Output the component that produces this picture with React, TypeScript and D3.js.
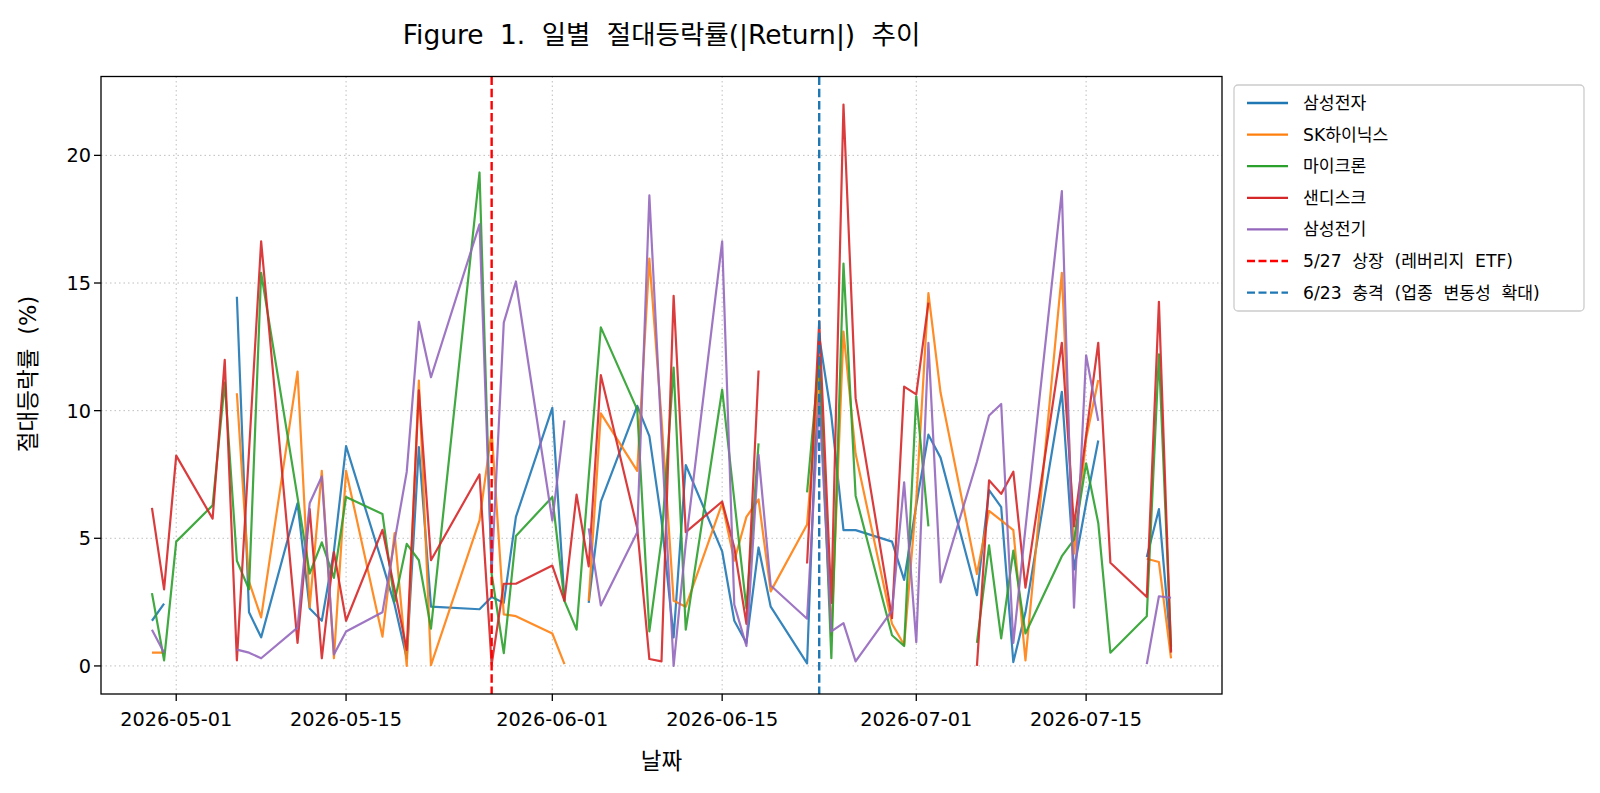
import * as d3 from "d3";

// business days in the table (05-25 is not in it)
const dates = [
  "2026-04-29", "2026-04-30", "2026-05-01", "2026-05-04", "2026-05-05", "2026-05-06", "2026-05-07", "2026-05-08",
  "2026-05-11", "2026-05-12", "2026-05-13", "2026-05-14", "2026-05-15",
  "2026-05-18", "2026-05-19", "2026-05-20", "2026-05-21", "2026-05-22",
  "2026-05-26", "2026-05-27", "2026-05-28", "2026-05-29",
  "2026-06-01", "2026-06-02", "2026-06-03", "2026-06-04", "2026-06-05",
  "2026-06-08", "2026-06-09", "2026-06-10", "2026-06-11", "2026-06-12",
  "2026-06-15", "2026-06-16", "2026-06-17", "2026-06-18", "2026-06-19",
  "2026-06-22", "2026-06-23", "2026-06-24", "2026-06-25", "2026-06-26",
  "2026-06-29", "2026-06-30", "2026-07-01", "2026-07-02", "2026-07-03",
  "2026-07-06", "2026-07-07", "2026-07-08", "2026-07-09", "2026-07-10",
  "2026-07-13", "2026-07-14", "2026-07-15", "2026-07-16", "2026-07-17",
  "2026-07-20", "2026-07-21", "2026-07-22",
];

const samsungElec = [
  1.77, 2.44, null, null, null, 14.46, 2.1, 1.12,
  6.37, 2.25, 1.77, 4.5, 8.61,
  4.0, 2.4, 0.3, 8.57, 2.32,
  2.22, 2.7, 2.47, 5.84,
  10.11, 2.55, null, 2.47, 6.44,
  10.19, 9.0, 5.7, 1.12, 7.87,
  4.49, 1.77, 0.9, 4.64, 2.32,
  0.1, 12.9, 9.8, 5.32, 5.32,
  4.87, 3.37, 6.3, 9.06, 8.16,
  2.77, 6.89, 6.22, 0.15, 2.1,
  10.74, 3.78, 6.38, 8.83, null,
  4.27, 6.14, 0.6,
];
const skHynix = [
  0.52, 0.52, null, null, null, 10.68, 3.3, 1.9,
  11.53, 2.3, 7.64, 0.3, 7.64,
  1.15, 5.2, 0.0, 11.18, 0.03,
  5.7, 9.2, 2.02, 1.95,
  1.27, 0.07, null, 2.55, 9.89,
  7.64, 15.96, 9.7, 2.55, 2.32,
  6.37, 4.12, 5.84, 6.52, 2.92,
  5.54, 11.5, 1.2, 13.1, 8.31,
  1.65, 0.82, 6.5, 14.6, 10.71,
  3.6, 6.07, 5.7, 5.32, 0.22,
  15.4, 4.4, 8.9, 11.2, null,
  4.2, 4.07, 0.3,
];
const micron = [
  2.85, 0.22, 4.87, 6.29, 11.1, 4.12, 3.0, 15.4,
  6.6, 3.62, 4.84, 3.45, 6.62,
  5.95, 2.52, 4.78, 4.14, 1.46,
  19.33, 3.6, 0.5, 5.09,
  6.62, 2.55, 1.42, 7.4, 13.26,
  10.04, 1.35, 4.94, 11.69, 1.42,
  10.82, 6.5, 2.25, 8.72, null,
  6.8, 12.1, 0.3, 15.76, 6.67,
  1.2, 0.78, 10.56, 5.47, null,
  0.9, 4.72, 1.08, 4.52, 1.27,
  4.3, 4.95, 7.94, 5.6, 0.52,
  1.95, 12.21, 0.75,
];
const sandisk = [
  6.19, 3.0, 8.24, 5.77, 11.99, 0.22, 8.4, 16.63,
  0.9, 6.14, 0.3, 4.46, 1.77,
  5.33, 3.0, 0.63, 10.8, 4.14,
  7.5, 0.05, 3.22, 3.22,
  3.93, 2.55, 6.71, 3.9, 11.39,
  5.39, 0.27, 0.18, 14.5, 5.24,
  6.44, 4.64, 1.65, 11.57, null,
  4.01, 13.5, 2.47, 21.99, 10.49,
  1.87, 10.94, 10.64, 14.23, null,
  0.0, 7.27, 6.74, 7.61, 3.07,
  12.66, 5.47, 9.05, 12.66, 4.04,
  2.7, 14.26, 0.52,
];
const samsungElectroMech = [
  1.42, 0.52, null, null, null, 0.64, 0.52, 0.3,
  1.5, 6.37, 7.42, 0.45, 1.35,
  2.1, 4.9, 7.6, 13.48, 11.31,
  17.3, 3.7, 13.45, 15.06,
  5.69, 9.62, null, 5.39, 2.37,
  5.24, 18.43, 9.0, 0.0, 4.8,
  16.63, 2.4, 0.78, 8.27, 3.15,
  1.85, 10.5, 1.35, 1.68, 0.18,
  2.17, 7.19, 0.93, 12.66, 3.27,
  8.0, 9.81, 10.26, 0.9, 5.4,
  18.6, 2.28, 12.17, 9.6, null,
  0.07, 2.73, 2.67,
];

const seriesNames = ["삼성전자", "SK하이닉스", "마이크론", "샌디스크", "삼성전기"];
const seriesColors = ["#1f77b4", "#ff7f0e", "#2ca02c", "#d62728", "#9467bd"];
const seriesValues = [samsungElec, skHynix, micron, sandisk, samsungElectroMech];

const eventDates = ["2026-05-27", "2026-06-23"];
const eventLabels = ["5/27 상장 (레버리지 ETF)", "6/23 충격 (업종 변동성 확대)"];
const eventColors = ["red", "#1f77b4"];

const xTicks = ["2026-05-01", "2026-05-15", "2026-06-01", "2026-06-15", "2026-07-01", "2026-07-15"];
const yTicks = [0, 5, 10, 15, 20];

const titleText = "Figure 1. 일별 절대등락률(|Return|) 추이";
const xLabel = "날짜";
const yLabel = "절대등락률 (%)";

// latin glyphs come from DejaVu, hangul falls back to the CJK face
const FONT = "'DejaVu Sans', 'Noto Sans CJK KR', sans-serif";
const spacing = { wordSpacing: "0.3em" };

export default function App() {
  const width = 1600,
    height = 793;
  const plot = { left: 101, right: 1222, top: 76.5, bottom: 694 };

  const parse = (s: string) => d3.utcParse("%Y-%m-%d")(s) as Date;
  const dateObjs = dates.map(parse);

  // matplotlib style 5% margins
  const [t0, t1] = d3.extent(dateObjs) as [Date, Date];
  const span = +t1 - +t0;
  const xScale = d3
    .scaleUtc()
    .domain([new Date(+t0 - span * 0.05), new Date(+t1 + span * 0.05)])
    .range([plot.left, plot.right]);

  const allVals = seriesValues.flat().filter((v) => v != null) as number[];
  const [vMin, vMax] = d3.extent(allVals) as [number, number];
  const vPad = (vMax - vMin) * 0.05;
  const yScale = d3
    .scaleLinear()
    .domain([vMin - vPad, vMax + vPad])
    .range([plot.bottom, plot.top]);

  const line = d3
    .line<number | null>()
    .defined((v) => v != null)
    .x((_, i) => xScale(dateObjs[i]))
    .y((v) => yScale(v as number));

  const legendItems = [
    ...seriesNames.map((n, i) => ({ label: n, color: seriesColors[i], dash: "" })),
    ...eventLabels.map((n, i) => ({ label: n, color: eventColors[i], dash: "8,3.5" })),
  ];
  const legendX = 1234,
    legendY = 85,
    legendRow = 31.6;

  return (
    <svg
      width={width}
      height={height}
      style={{ position: "absolute", left: 0, top: 0, background: "white" }}
      fontFamily={FONT}
    >
      <rect width={width} height={height} fill="white" />
      <defs>
        <clipPath id="plot-clip">
          <rect x={plot.left} y={plot.top} width={plot.right - plot.left} height={plot.bottom - plot.top} />
        </clipPath>
      </defs>

      {/* grid */}
      <g stroke="#b0b0b0" strokeWidth={1} strokeDasharray="1.5,3" opacity={0.8}>
        {xTicks.map((t) => (
          <line key={t} x1={xScale(parse(t))} x2={xScale(parse(t))} y1={plot.top} y2={plot.bottom} />
        ))}
        {yTicks.map((t) => (
          <line key={t} x1={plot.left} x2={plot.right} y1={yScale(t)} y2={yScale(t)} />
        ))}
      </g>

      <g clipPath="url(#plot-clip)">
        {seriesValues.map((vals, i) => (
          <path
            key={seriesNames[i]}
            d={line(vals) ?? ""}
            fill="none"
            stroke={seriesColors[i]}
            strokeWidth={2.2}
            strokeOpacity={0.9}
            strokeLinejoin="round"
          />
        ))}
        {eventDates.map((d, i) => (
          <line
            key={d}
            x1={xScale(parse(d))}
            x2={xScale(parse(d))}
            y1={plot.top}
            y2={plot.bottom}
            stroke={eventColors[i]}
            strokeWidth={2.4}
            strokeDasharray="8.5,3.7"
          />
        ))}
      </g>

      {/* spines */}
      <rect
        x={plot.left}
        y={plot.top}
        width={plot.right - plot.left}
        height={plot.bottom - plot.top}
        fill="none"
        stroke="black"
        strokeWidth={1.3}
      />

      {/* x axis */}
      {xTicks.map((t) => {
        const x = xScale(parse(t));
        return (
          <g key={t}>
            <line x1={x} x2={x} y1={plot.bottom} y2={plot.bottom + 7} stroke="black" strokeWidth={1.3} />
            <text x={x} y={plot.bottom + 31.5} textAnchor="middle" fontSize={19.3} fill="black">
              {t}
            </text>
          </g>
        );
      })}
      {/* y axis */}
      {yTicks.map((t) => {
        const y = yScale(t);
        return (
          <g key={t}>
            <line x1={plot.left - 7} x2={plot.left} y1={y} y2={y} stroke="black" strokeWidth={1.3} />
            <text x={plot.left - 10} y={y + 7} textAnchor="end" fontSize={19.3} fill="black">
              {t}
            </text>
          </g>
        );
      })}

      <text x={(plot.left + plot.right) / 2} y={769} textAnchor="middle" fontSize={22.5} fill="black" style={spacing}>
        {xLabel}
      </text>
      <text
        transform={`translate(36,374) rotate(-90)`}
        textAnchor="middle"
        fontSize={22.5}
        fill="black"
        style={spacing}
      >
        {yLabel}
      </text>
      <text x={(plot.left + plot.right) / 2} y={44} textAnchor="middle" fontSize={26.5} fill="black" style={spacing}>
        {titleText}
      </text>

      {/* legend */}
      <rect
        x={legendX}
        y={legendY}
        width={350}
        height={226}
        rx={4}
        fill="white"
        fillOpacity={0.8}
        stroke="#cccccc"
        strokeWidth={1.3}
      />
      {legendItems.map((it, i) => {
        const cy = legendY + 18 + i * legendRow;
        return (
          <g key={it.label}>
            <line
              x1={legendX + 13}
              x2={legendX + 54}
              y1={cy}
              y2={cy}
              stroke={it.color}
              strokeWidth={2.3}
              strokeDasharray={it.dash}
            />
            <text x={legendX + 69} y={cy + 6} fontSize={17.2} fill="black" style={spacing}>
              {it.label}
            </text>
          </g>
        );
      })}
    </svg>
  );
}
